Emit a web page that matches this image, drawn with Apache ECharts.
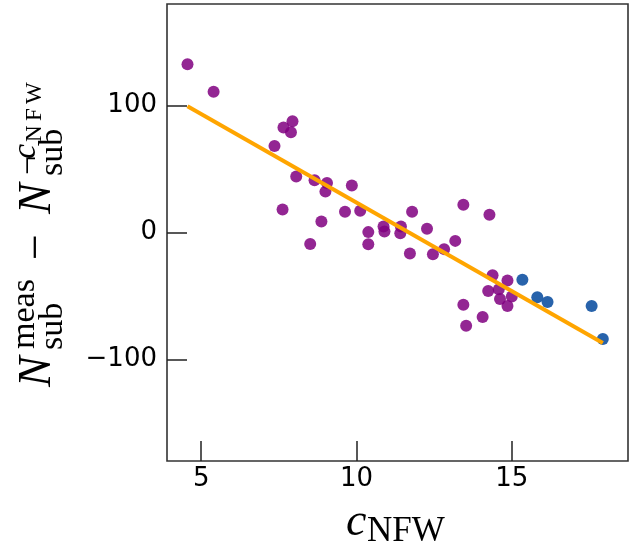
<!DOCTYPE html>
<html>
<head>
<meta charset="utf-8">
<script src="https://cdn.jsdelivr.net/npm/echarts@6/dist/echarts.min.js"></script>
<style>
  html, body { margin: 0; padding: 0; background: #fff; }
  #chart { width: 633px; height: 549px; }
</style>
</head>
<body>
<div id="chart"></div>
<script>
// Halo concentrations and subhalo-count residuals
const mainX = [4.56, 5.40, 7.94, 7.65, 7.89, 7.36, 8.06, 8.65, 9.05, 9.00,
               9.85, 7.62, 9.63, 10.12, 8.87, 8.51, 10.38, 10.38, 10.87, 10.90,
               11.43, 11.41, 11.79, 12.27, 11.72, 12.46, 12.82, 13.18, 13.44, 14.28,
               14.38, 14.86, 14.24, 14.58, 14.62, 15.00, 14.86, 13.44, 13.53, 14.06];
const mainY = [132.6, 110.8, 87.6, 82.7, 79.0, 68.2, 44.2, 41.2, 39.0, 32.2,
               37.1, 18.2, 16.3, 17.1, 8.6, -9.1, 0.3, -9.2, 4.7, 0.8,
               4.7, -0.5, 16.3, 2.9, -16.6, -17.1, -13.1, -6.6, 21.9, 14.0,
               -33.6, -37.9, -46.0, -44.8, -52.3, -50.5, -57.9, -56.9, -73.4, -66.6];

const highX = [15.34, 15.82, 16.15, 17.57, 17.93];
const highY = [-37.3, -51.0, -54.7, -57.9, -83.9];

// Linear fit, evaluated at the ends of the concentration range
const fitX = [4.56, 17.93];
const fitY = [99.5, -87.0];

const xTicks = [5, 10, 15];
const yTicks = [-100, 0, 100];

const pairs = (xs, ys) => xs.map((x, i) => [x, ys[i]]);

const SERIF = '"Liberation Serif", "DejaVu Serif", serif';
const SANS = '"DejaVu Sans", sans-serif';

// Text piece placed by its alphabetic baseline
function piece(text, x, base, size, italic) {
  return {
    type: 'text',
    x: x,
    y: base - 0.33 * size,
    style: {
      text: text,
      font: (italic ? 'italic ' : '') + size + 'px ' + SERIF,
      fill: '#000',
      verticalAlign: 'middle',
      align: 'left'
    }
  };
}

// y-axis title, laid out horizontally then turned upright
const yTitle = [
  piece('N', 0, 0, 46, true),
  piece('meas', 38, -17, 34, false),
  piece('sub', 37, 11, 34, false),
  piece('\u2212', 127, 0, 46, false),
  piece('N', 173, 0, 46, true),
  piece('sub', 211, 11, 34, false),
  piece('\u00AC', 212, -13, 34, false),
  piece('c', 228, -16, 34, true),
  piece('N', 245, -10, 23, false),
  piece('F', 266, -10, 23, false),
  piece('W', 283, -10, 23, false)
];

const xTitle = [
  piece('c', 346, 538, 46, true),
  piece('NFW', 367, 543, 35, false)
];

const chart = echarts.init(document.getElementById('chart'), null, { renderer: 'canvas' });

chart.setOption({
  animation: false,
  backgroundColor: '#fff',
  grid: {
    left: 167, right: 5, top: 4, bottom: 88,
    show: true,
    borderColor: '#333',
    borderWidth: 1.6,
    backgroundColor: 'transparent',
    containLabel: false,
    outerBoundsMode: 'none'
  },
  xAxis: {
    type: 'value',
    min: 3.9,
    max: 18.74,
    axisLine: { show: false, onZero: false },
    splitLine: { show: false },
    axisTick: {
      show: true,
      inside: true,
      length: 20,
      customValues: xTicks,
      lineStyle: { color: '#222', width: 1.5 }
    },
    axisLabel: {
      customValues: xTicks,
      fontFamily: SANS,
      fontSize: 26,
      color: '#000',
      margin: 5
    }
  },
  yAxis: {
    type: 'value',
    min: -180,
    max: 180,
    axisLine: { show: false, onZero: false },
    splitLine: { show: false },
    axisTick: {
      show: true,
      inside: true,
      length: 20,
      customValues: yTicks,
      lineStyle: { color: '#222', width: 1.5 }
    },
    axisLabel: {
      customValues: yTicks,
      fontFamily: SANS,
      fontSize: 26,
      color: '#000',
      margin: 10,
      formatter: v => (v < 0 ? '\u2212' + Math.abs(v) : String(v))
    }
  },
  series: [
    {
      type: 'scatter',
      data: pairs(mainX, mainY),
      symbolSize: 12,
      itemStyle: { color: '#800080', opacity: 0.85 }
    },
    {
      type: 'line',
      data: pairs(fitX, fitY),
      showSymbol: false,
      lineStyle: { color: '#FFA500', width: 4, cap: 'butt' }
    },
    {
      type: 'scatter',
      data: pairs(highX, highY),
      symbolSize: 12,
      itemStyle: { color: '#1c5ba6', opacity: 0.95 }
    }
  ],
  graphic: [
    { type: 'group', x: 53, y: 387, rotation: Math.PI / 2, children: yTitle },
    { type: 'group', x: 0, y: 0, children: xTitle }
  ]
});
</script>
</body>
</html>
